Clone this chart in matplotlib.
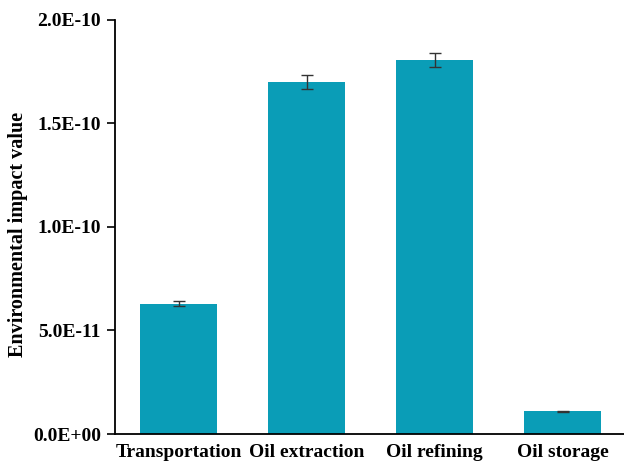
import matplotlib.pyplot as plt
import numpy as np

plt.rcParams["font.family"] = ["Liberation Serif", "DejaVu Serif"]
plt.rcParams["font.weight"] = "bold"

categories = ["Transportation", "Oil extraction", "Oil refining", "Oil storage"]
values = [6.3e-11, 1.70e-10, 1.805e-10, 1.1e-11]
errors = [0.1e-11, 0.35e-11, 0.35e-11, 0.03e-11]
yticks = [0, 5e-11, 1e-10, 1.5e-10, 2e-10]
ytick_labels = ["0.0E+00", "5.0E-11", "1.0E-10", "1.5E-10", "2.0E-10"]

fig = plt.figure(figsize=(6.24, 4.62), dpi=100)
ax = fig.add_axes([0.184, 0.0606, 0.816, 0.8964])

x = np.arange(len(categories))
ax.bar(x, values, width=0.6, color="#0a9db7", yerr=errors,
       error_kw=dict(ecolor="#333333", elinewidth=1.0, capsize=4, capthick=1.0))

ax.set_xlim(-0.5, 3.48)
ax.set_ylim(0, 2e-10)
ax.set_yticks(yticks)
ax.set_yticklabels(ytick_labels)
ax.set_xticks(x)
ax.set_xticklabels(categories)
ax.tick_params(axis="x", length=0, labelsize=14, pad=7)
ax.tick_params(axis="y", direction="out", length=6, width=1.2, labelsize=14, pad=4)
for s in ["top", "right"]:
    ax.spines[s].set_visible(False)
for s in ["left", "bottom"]:
    ax.spines[s].set_linewidth(1.3)

# y label placed in figure coords
fig.text(18 / 624, 1 - 234 / 462, "Environmental impact value", rotation=90,
         ha="center", va="center", fontsize=14.5, fontweight="bold")

fig.savefig("out.png", dpi=100)
